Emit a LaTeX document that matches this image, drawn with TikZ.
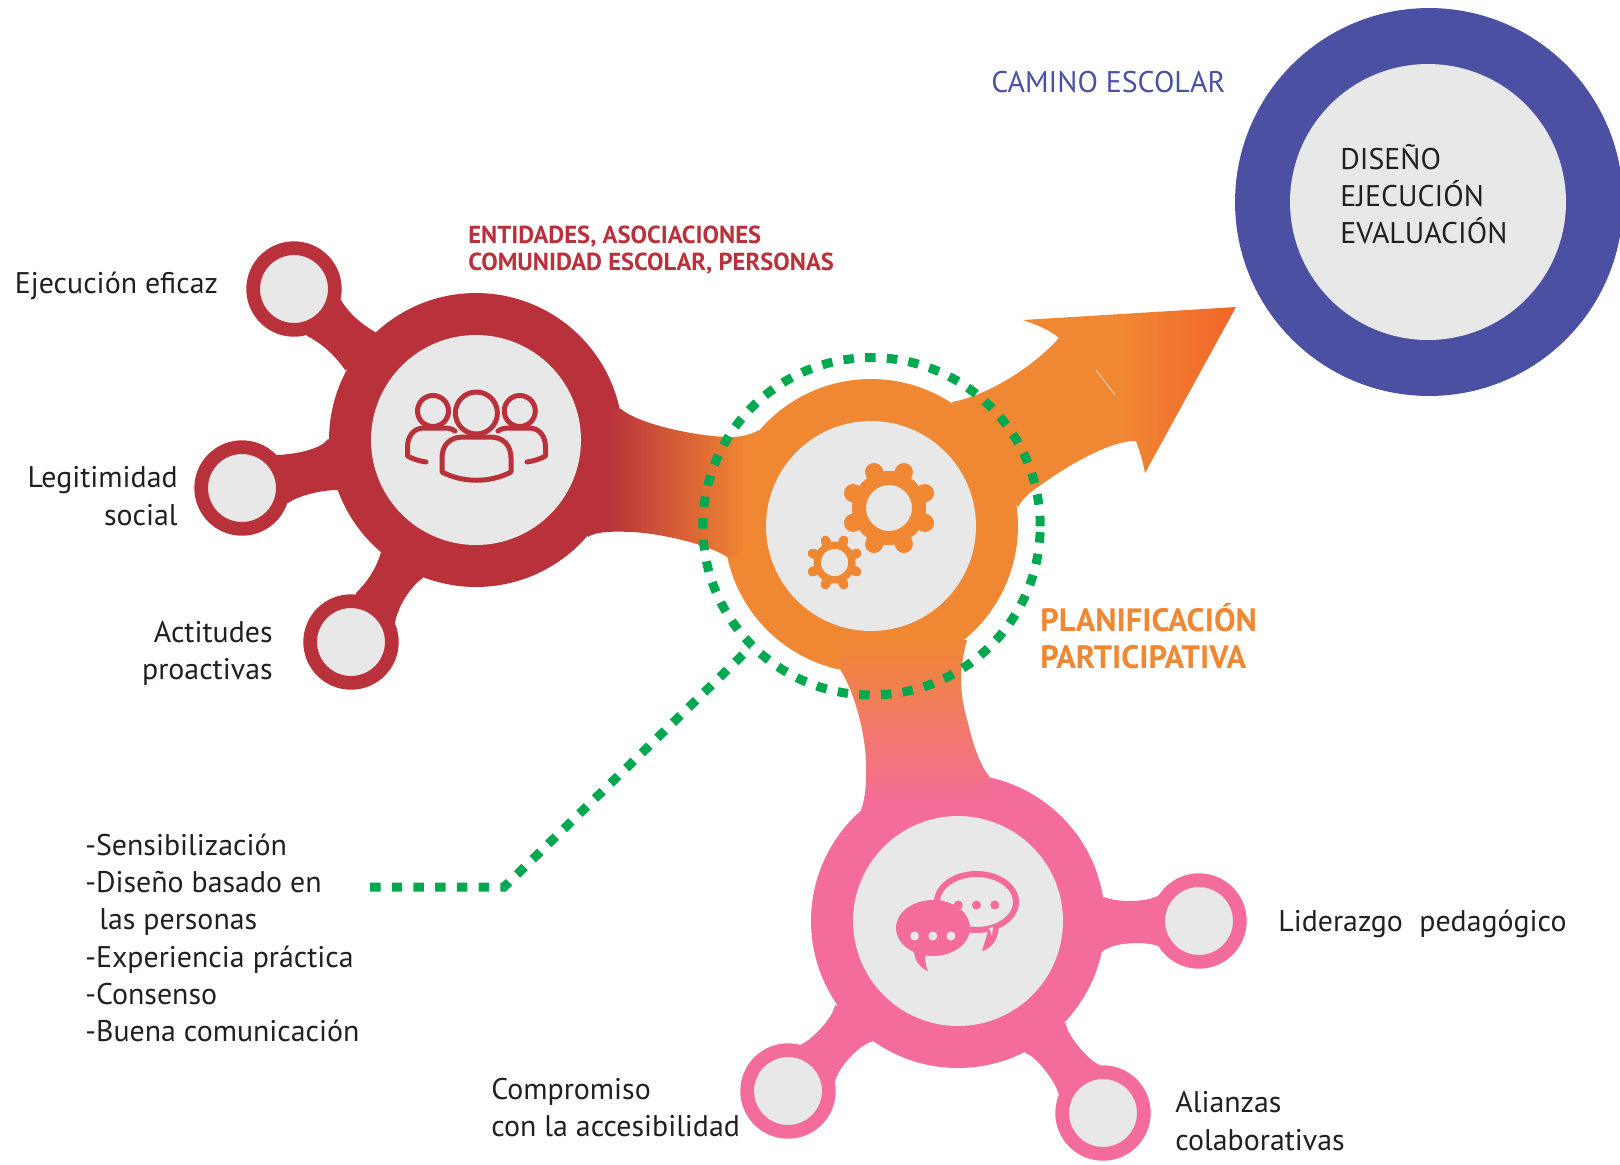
\documentclass[tikz,border=0pt]{standalone}
\usepackage{fontspec}
\setmainfont{PT Sans}
\definecolor{hubred}{HTML}{B9313B}
\definecolor{huborange}{HTML}{F08733}
\definecolor{hubpink}{HTML}{F36C9C}
\definecolor{hubblue}{HTML}{4B50A2}
\definecolor{coregray}{HTML}{E8E8E8}
\definecolor{dotgreen}{HTML}{00A94F}
\definecolor{tipred}{HTML}{F26529}
\definecolor{inkgray}{HTML}{231F20}
\pgfdeclarehorizontalshading{arrowfade}{100bp}{color(0bp)=(huborange); color(55bp)=(huborange); color(75bp)=(tipred); color(100bp)=(tipred)}
\pgfdeclarehorizontalshading{redfade}{100bp}{color(0bp)=(hubred); color(30bp)=(hubred); color(71bp)=(huborange); color(100bp)=(huborange)}
\tikzset{
	hubring/.style={circle, fill=#1, minimum size=5.88cm, inner sep=0},
	hubcore/.style={circle, fill=coregray, minimum size=4.2cm, inner sep=0},
	satellite/.style={circle, draw=#1, fill=coregray, line width=.274cm, minimum size=1.634cm, inner sep=0},
	dotline/.style={draw=dotgreen, line width=.18cm, dash pattern=on .21cm off .225cm},
	textnote/.style={anchor=west, text=inkgray, align=#1, inner sep=0, font=\fontsize{17}{21.2}\selectfont},
	titlebold/.style={anchor=west, align=left, inner sep=0},
}
\begin{document}
\begin{tikzpicture}[x=.02cm, y=-.02cm]
	\useasboundingbox (0,0) rectangle (1620,1164);
	% camino escolar
	\node[circle, fill=hubblue, minimum size=7.76cm, inner sep=0] (caminoring) at (1429,202) {};
	\node[circle, fill=coregray, minimum size=5.52cm, inner sep=0] (caminocore) at (1428,202) {};
	\node[textnote=left, text=hubblue] (caminotext) at (991,82) {CAMINO ESCOLAR};
	\node[textnote=left] (disenotext) at (1340,194) {DISEÑO\\EJECUCIÓN\\EVALUACIÓN};

	% flecha
	\shade[shading=arrowfade] (1236,307) -- (1023,320) .. controls (1037,325) and (1050,330) .. (1059,338) .. controls (1035,365) and (990,395) .. (952,402) -- (1018,507) .. controls (1024,497) and (1030,492) .. (1041,485) .. controls (1075,460) and (1115,440) .. (1136,441) .. controls (1140,452) and (1143,462) .. (1145,473) -- cycle;
	\draw[white, line width=.3pt] (1096,370) -- (1115,395);

	% hubs
	\node[hubring=hubred] (gentering) at (476,440) {};
	\node[hubring=huborange] (planring) at (871,526) {};
	\node[hubring=hubpink] (charlaring) at (958,921) {};

	% uniones rojas
	\fill[hubred] (341,300) .. controls (350,315) and (363,325) .. (375,332) -- (400,350) -- (345,370) .. controls (335,355) and (320,342) .. (307,336) -- (294,289) -- cycle;
	\fill[hubred] (277,455) .. controls (300,454) and (322,448) .. (328,439) -- (360,460) -- (338,490) .. controls (320,490) and (298,496) .. (288,503) -- (242,488) -- cycle;
	\fill[hubred] (381,552) .. controls (376,570) and (366,583) .. (356,593) -- (351,642) -- (395,623) .. controls (398,605) and (412,585) .. (423,578) -- (430,550) -- cycle;

	% uniones rosas
	\fill[hubpink] (1104,897) .. controls (1118,903) and (1150,902) .. (1159,895) -- (1199,921) -- (1158,946) .. controls (1145,941) and (1112,942) .. (1102,952) -- (1080,921) -- cycle;
	\fill[hubpink] (835,1005) .. controls (833,1018) and (812,1040) .. (800,1045) -- (788,1091) -- (835,1082) .. controls (837,1068) and (862,1042) .. (872,1042) -- (880,1020) -- cycle;
	\fill[hubpink] (1066,1023) .. controls (1066,1035) and (1090,1062) .. (1100,1065) -- (1103,1113) -- (1059,1095) .. controls (1055,1080) and (1035,1055) .. (1025,1053) -- (1030,1030) -- cycle;

	% uniones con degradado
	\shade[shading=redfade] (588,409) -- (621,409) .. controls (640,425) and (700,437) .. (731,437) .. controls (742,437) and (752,434) .. (759,430) -- (759,557) -- (727,557) .. controls (710,545) and (660,533) .. (631,532) .. controls (610,531) and (595,532) .. (588,537) -- cycle;
	\shade[top color=huborange, bottom color=hubpink] (841,640) -- (967,640) .. controls (960,665) and (958,690) .. (968,723) .. controls (973,745) and (980,765) .. (989,776) -- (989,810) -- (861,810) .. controls (864,802) and (866,790) .. (866,777) .. controls (868,735) and (853,690) .. (841,671) -- cycle;

	% nucleos
	\node[hubcore] (gentecore) at (476,440) {};
	\node[hubcore] (plancore) at (871,526) {};
	\node[hubcore] (charlacore) at (958,921) {};
	\node[satellite=hubred] (eficaz) at (294,289) {};
	\node[satellite=hubred] (social) at (242,488) {};
	\node[satellite=hubred] (actitudes) at (351,642) {};
	\node[satellite=hubpink] (liderazgo) at (1199,921) {};
	\node[satellite=hubpink] (compromiso) at (788,1091) {};
	\node[satellite=hubpink] (alianzas) at (1103,1113) {};

	% personas
	\begin{scope}[draw=hubred, line width=.1cm, line cap=round, line join=round]
		\draw (476.4,413) circle (21);
		\draw (433,411) circle (15.5);
		\draw (519.8,411) circle (15.5);
		\draw (442,472) -- (442,458) .. controls (442,445) and (450,437) .. (463,437) -- (490,437) .. controls (503,437) and (511,445) .. (511,458) -- (511,472) .. controls (490,483) and (463,483) .. (442,472) -- cycle;
		\draw (455,431) .. controls (451,428) and (447,428) .. (443,428) -- (424,428) .. controls (413,428) and (407.5,437) .. (407.5,447) -- (407.5,456) .. controls (413,459) and (419,461) .. (426,462);
		\draw (498,431) .. controls (502,428) and (506,428) .. (510,428) -- (529,428) .. controls (540,428) and (545.5,437) .. (545.5,447) -- (545.5,456) .. controls (540,459) and (534,461) .. (527,462);
	\end{scope}

	% engranajes
	\begin{scope}[shift={(889,508)}]
		\draw[huborange, line width=.28cm] (0,0) circle (30);
		\foreach \a in {22.5,67.5,...,337.5}
			\draw[huborange, line width=.36cm, line cap=round] (\a:35) -- (\a:39);
	\end{scope}
	\begin{scope}[shift={(834.6,562.5)}]
		\draw[huborange, line width=.146cm] (0,0) circle (17.3);
		\foreach \a in {22.5,67.5,...,337.5}
			\draw[huborange, line width=.19cm, line cap=round] (\a:20) -- (\a:24);
	\end{scope}

	% burbujas
	\draw[hubpink, line width=.12cm] (976.5,902) ellipse (39.5 and 28);
	\fill[hubpink] (990,925) -- (982,951) .. controls (992,948) and (998,940) .. (999,926) -- cycle;
	\fill[coregray] (989,928) -- (992,936) -- (993,927) -- cycle;
	\fill[hubpink] (933,928) ellipse (37 and 28);
	\fill[hubpink] (914,950) .. controls (914,960) and (920,968) .. (928,971) .. controls (925,965) and (925,960) .. (926,952) -- cycle;
	\foreach \x in {958.3,976.5,994.8}
		\fill[hubpink] (\x,905) circle (4.5);
	\foreach \x in {914.6,932.8,951}
		\fill[coregray] (\x,936) circle (4.5);

	% anillo punteado
	\node[circle, dotline, minimum size=6.75cm, inner sep=0, outer sep=0] (planaro) at (871.5,526.3) {};
	\coordinate (listaend) at (370,887);
	\coordinate (listabend) at (504,887);
	\draw[dotline, shorten >=.16cm] (listaend) -- (listabend) -- (planaro.225);

	% textos
	\node[titlebold, text=hubred, font=\bfseries\fontsize{14}{15.9}\selectfont] (entidades) at (468,250) {ENTIDADES, ASOCIACIONES\\COMUNIDAD ESCOLAR, PERSONAS};
	\node[titlebold, text=huborange, font=\bfseries\fontsize{18.4}{21.2}\selectfont] (planifica) at (1040,636.5) {PLANIFICACIÓN\\PARTICIPATIVA};
	\node[textnote=left] (eficaztext) at (14.5,286) {Ejecución eficaz};
	\node[textnote=right, anchor=east] (socialtext) at (178,496) {Legitimidad\\social};
	\node[textnote=right, anchor=east] (actitudestext) at (273,653) {Actitudes\\proactivas};
	\node[textnote=left] (listatext) at (85,938) {-Sensibilización\\-Diseño basado en\\\hspace*{.28cm}las personas\\-Experiencia práctica\\-Consenso\\-Buena comunicación};
	\node[textnote=left] (liderazgotext) at (1278,924) {Liderazgo\hspace{.17cm} pedagógico};
	\node[textnote=left] (compromisotext) at (491,1107.5) {Compromiso\\con la accesibilidad};
	\node[textnote=left] (alianzastext) at (1175,1121) {Alianzas\\colaborativas};
\end{tikzpicture}
\end{document}
